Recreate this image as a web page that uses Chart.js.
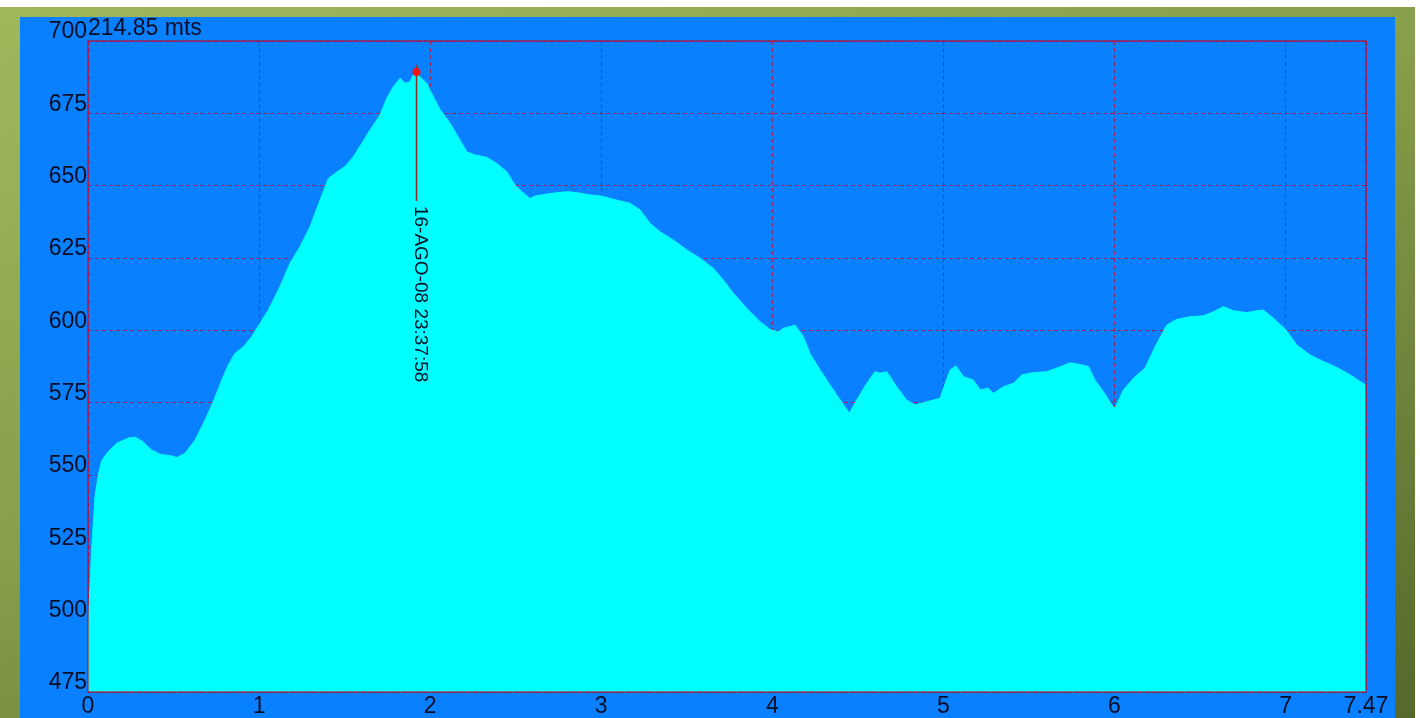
<!DOCTYPE html>
<html>
<head>
<meta charset="utf-8">
<title>Perfil de altitud</title>
<script src="https://cdn.jsdelivr.net/npm/chart.js@4.4.1/dist/chart.umd.min.js"></script>
<style>
    html, body { margin: 0; padding: 0; background: #ffffff; width: 1420px; height: 718px; overflow: hidden; }
    #frame {
        position: absolute; left: 0; top: 7px; width: 1415px; height: 711px;
        background: linear-gradient(160deg, #a0b85c 0%, #879e4a 45%, #55692b 100%);
    }
    #panel { position: absolute; left: 20px; top: 10px; width: 1375px; height: 701px; background: #0880ff; }
    canvas { display: block; }
</style>
</head>
<body>
<div id="frame"><div id="panel"><canvas id="profile" width="1375" height="701"></canvas></div></div>
<script>
// distance (km) and altitude (m)
var distances = [
    0, 0.022, 0.041, 0.060, 0.080, 0.117, 0.168, 0.236, 0.275, 0.321,
    0.372, 0.421, 0.489, 0.518, 0.567, 0.625, 0.665, 0.684, 0.732, 0.782,
    0.820, 0.859, 0.908, 0.957, 1.005, 1.054, 1.122, 1.181, 1.239, 1.298,
    1.356, 1.405, 1.444, 1.502, 1.551, 1.600, 1.648, 1.707, 1.746, 1.785,
    1.824, 1.853, 1.882, 1.901, 1.917, 1.941, 1.980, 1.999, 2.058, 2.116,
    2.174, 2.214, 2.262, 2.330, 2.389, 2.447, 2.496, 2.535, 2.584, 2.613,
    2.681, 2.759, 2.807, 2.876, 2.934, 3.003, 3.070, 3.168, 3.227, 3.285,
    3.343, 3.421, 3.500, 3.577, 3.655, 3.713, 3.772, 3.850, 3.928, 3.986,
    4.035, 4.064, 4.133, 4.181, 4.220, 4.279, 4.337, 4.396, 4.450, 4.493,
    4.552, 4.600, 4.629, 4.668, 4.727, 4.785, 4.834, 4.902, 4.980, 5.004,
    5.039, 5.074, 5.116, 5.175, 5.214, 5.262, 5.292, 5.350, 5.409, 5.458,
    5.525, 5.604, 5.682, 5.740, 5.798, 5.847, 5.886, 5.935, 5.984, 6.003,
    6.052, 6.110, 6.178, 6.237, 6.305, 6.364, 6.441, 6.519, 6.578, 6.636,
    6.695, 6.773, 6.831, 6.870, 6.928, 7.003, 7.065, 7.143, 7.221, 7.299,
    7.377, 7.435, 7.470
];
var altitudes = [
    497.0, 525.0, 542.5, 550.0, 555.0, 558.0, 561.0, 562.8, 563.1, 561.5,
    558.6, 557.2, 556.6, 556.0, 557.5, 562.0, 566.7, 569.0, 575.3, 582.8,
    588.0, 592.0, 594.3, 597.8, 602.4, 607.0, 615.1, 623.2, 628.9, 635.8,
    645.0, 652.5, 654.3, 656.6, 660.0, 664.6, 669.2, 674.4, 680.2, 684.2,
    687.1, 685.4, 685.9, 688.2, 689.3, 687.5, 685.4, 683.0, 676.2, 671.6,
    665.8, 661.7, 660.6, 659.8, 657.7, 654.8, 650.2, 647.9, 645.6, 646.4,
    647.1, 647.7, 647.9, 647.4, 646.8, 646.4, 645.3, 643.9, 641.6, 637.0,
    634.1, 631.2, 627.8, 624.9, 621.4, 617.4, 612.8, 607.6, 603.0, 600.3,
    599.5, 600.7, 601.8, 597.8, 592.0, 586.3, 581.1, 575.9, 571.3, 575.9,
    581.7, 585.7, 585.2, 585.7, 580.5, 575.9, 574.2, 575.3, 576.5, 580.5,
    586.3, 587.7, 584.0, 582.8, 579.4, 580.0, 578.2, 580.5, 581.7, 584.6,
    585.4, 585.7, 587.4, 588.8, 588.2, 587.5, 582.8, 578.8, 574.2, 573.1,
    579.4, 583.4, 586.9, 594.3, 601.8, 603.8, 604.7, 605.0, 606.4, 608.2,
    606.8, 606.1, 606.8, 607.0, 604.2, 600.1, 594.9, 591.5, 589.2, 587.2,
    584.6, 582.3, 581.1
];
var xTickValues = [0, 1, 2, 3, 4, 5, 6, 7, 7.47];
var yMin = 475, yMax = 700, yStep = 25;
var headerText = '214.85 mts';
var markerKm = 1.917;
var markerAlt = 689.3;
var markerLabel = '16-AGO-08 23:37:58';

var textColor = '#050d24';
var gridColor = 'rgba(200, 0, 30, 0.7)';
var labelFont = '"Liberation Sans", Arial, sans-serif';

var points = [];
for (var i = 0; i < distances.length; ++i) {
    points.push({ x: distances[i], y: altitudes[i] });
}

var overlayPlugin = {
    id: 'overlay',
    afterDraw: function (chart) {
        var ctx = chart.ctx;
        var area = chart.chartArea;
        var mx = Math.round(chart.scales.x.getPixelForValue(markerKm)) + 0.5;
        var my = chart.scales.y.getPixelForValue(markerAlt);
        ctx.save();

        // plot frame
        ctx.strokeStyle = gridColor;
        ctx.lineWidth = 1.5;
        ctx.strokeRect(area.left, area.top, area.right - area.left, area.bottom - area.top);

        // header text
        ctx.fillStyle = textColor;
        ctx.font = '23px ' + labelFont;
        ctx.textAlign = 'left';
        ctx.textBaseline = 'alphabetic';
        ctx.fillText(headerText, area.left, area.top - 6);

        // marker line, dot and rotated label
        ctx.strokeStyle = '#8e2a20';
        ctx.lineWidth = 1.5;
        ctx.beginPath();
        ctx.moveTo(mx, my - 7);
        ctx.lineTo(mx, my + 129);
        ctx.stroke();

        ctx.fillStyle = '#ff1010';
        ctx.beginPath();
        ctx.arc(mx, my, 4, 0, Math.PI * 2);
        ctx.fill();

        ctx.translate(mx - 2, my + 134);
        ctx.rotate(Math.PI / 2);
        ctx.fillStyle = textColor;
        ctx.font = '19px ' + labelFont;
        ctx.textAlign = 'left';
        ctx.textBaseline = 'alphabetic';
        ctx.fillText(markerLabel, 0, 0);

        ctx.restore();
    }
};

var ctx = document.getElementById('profile');
var profileChart = new Chart(ctx, {
    type: 'line',
    data: {
        datasets: [{
            data: points,
            fill: 'start',
            backgroundColor: '#00ffff',
            borderColor: '#00ffff',
            borderWidth: 1,
            pointRadius: 0,
            tension: 0
        }]
    },
    options: {
        responsive: false,
        animation: false,
        events: [],
        layout: { padding: { top: 24, right: 29, left: 0, bottom: 0 } },
        plugins: {
            legend: { display: false },
            tooltip: { enabled: false }
        },
        scales: {
            x: {
                type: 'linear',
                min: 0,
                max: 7.47,
                z: 1,
                afterBuildTicks: function (scale) {
                    scale.ticks = xTickValues.map(function (v) { return { value: v }; });
                },
                afterFit: function (scale) { scale.height = 26; },
                grid: { color: gridColor, lineWidth: 1, drawTicks: false },
                border: { display: false, dash: [4, 3] },
                ticks: {
                    color: textColor,
                    font: { family: labelFont, size: 23 },
                    padding: 1,
                    maxRotation: 0,
                    autoSkip: false,
                    callback: function (value) { return String(value); }
                }
            },
            y: {
                min: yMin,
                max: yMax,
                z: 1,
                afterFit: function (scale) { scale.width = 68; },
                grid: { color: gridColor, lineWidth: 1, drawTicks: false },
                border: { display: false, dash: [4, 3] },
                ticks: {
                    stepSize: yStep,
                    color: textColor,
                    font: { family: labelFont, size: 23 },
                    padding: 1,
                    labelOffset: -9
                }
            }
        }
    },
    plugins: [overlayPlugin]
});
</script>
</body>
</html>
